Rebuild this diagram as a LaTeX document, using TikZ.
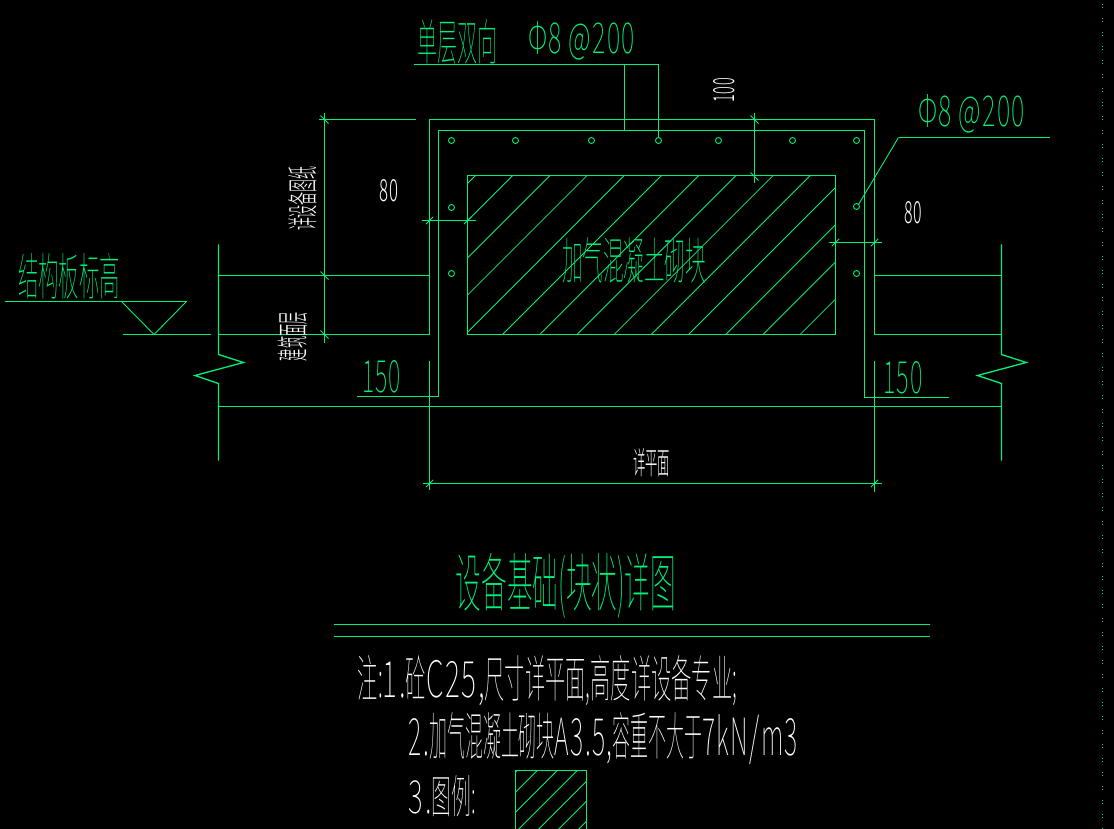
\documentclass[tikz,border=0pt]{standalone}
\usepackage{graphicx}
\usepackage{fontspec}
\setmainfont{Noto Sans CJK SC Thin}
\newfontfamily\lightf{Noto Sans CJK SC Light}
\newfontfamily\lsf[FakeStretch=1.4,LetterSpace=8]{Noto Sans CJK SC Thin}
\newfontfamily\lslf[FakeStretch=1.3,LetterSpace=8]{Noto Sans CJK SC Light}
\definecolor{cadg}{HTML}{00F078}
\tikzset{
  cad/.style={draw=cadg,line width=1.3pt},
  hatchline/.style={draw=cadg,line width=0.85pt},
  rebar/.style={draw=cadg,line width=0.9pt},
}
\newcommand{\TX}[7]{% name, x0, y0, x1, y1, colour, text
  \node[inner sep=0pt,outer sep=0pt,text=#6] (#1) at ({(#2+#4)/2},{(#3+#5)/2})
    {\resizebox{\dimexpr#4pt-#2pt\relax}{\dimexpr#5pt-#3pt\relax}{#7}};}
\newcommand{\TR}[7]{% rotated
  \node[inner sep=0pt,outer sep=0pt,text=#6,rotate=90] (#1) at ({(#2+#4)/2},{(#3+#5)/2})
    {\resizebox{\dimexpr#5pt-#3pt\relax}{\dimexpr#4pt-#2pt\relax}{#7}};}
\newcommand{\TK}[2]{\draw[cad,line width=0.85pt] ({#1-4},{#2-4}) -- ({#1+4},{#2+4});}
\newcommand{\TF}[2]{\draw[cad,line width=0.85pt] ({#1-3.7},{#2+3.7}) -- ({#1+3.7},{#2-3.7});}
\newcommand{\LS}[1]{{\lsf #1}}
\newcommand{\LL}[1]{{\lslf #1}}
\begin{document}
\begin{tikzpicture}[x=1pt,y=-1pt]
\useasboundingbox (0,0) rectangle (1114,829);
\fill[black] (0,0) rectangle (1114,829);
\begin{scope}[shift={(0.5,-0.5)}]
% dotted column
\foreach \k in {0,...,59}{
  \fill[cadg] (1101,{5+13.95*\k}) rectangle (1102,{6+13.95*\k});
  \fill[cadg] (1101,{8+13.95*\k}) rectangle (1102,{9+13.95*\k});
}
% hatch of block
\begin{scope}
\clip (467,176) rectangle (835,335);
\foreach \k in {0,...,13}{
  \draw[hatchline] ({651+37.2*\k-140},140) -- ({651+37.2*\k-340},340);
}
\end{scope}
\draw[cad] (467,176) rectangle (835,335);
% concrete outline
\draw[cad] (218,335) -- (429,335) -- (429,120) -- (874,120) -- (874,335) -- (1001,335);
\draw[cad] (356,397) -- (438,397) -- (438,131) -- (864,131) -- (864,398) -- (948,398);
% floor lines
\draw[cad] (218,276) -- (429,276);
\draw[cad] (874,276) -- (1001,276);
\draw[cad] (218,407) -- (1001,407);
\draw[cad] (218,245) -- (218,355) -- (243,363) -- (194.5,376) -- (218,384) -- (218,461);
\draw[cad] (1001,245) -- (1001,355) -- (1025.7,363) -- (977,376) -- (1001,384) -- (1001,461);
% leaders
\draw[cad] (413,65) -- (658,65) -- (658,138);
\draw[cad] (624,65) -- (624,131);
\draw[hatchline,line width=0.9pt] (858,205) -- (898,138);
\draw[cad] (898,138) -- (1049,138);
% rebar
\foreach \p in {(451,141),(515,141),(591,141),(658,141),(718,141),(792,141),(856,141),
  (451,208),(451,274),(856,207),(856,274)}{
  \draw[rebar] \p circle (3);
}
% dimensions
\draw[cad] (324,114) -- (324,343);
\draw[cad] (318,120) -- (415,120);
\TK{324}{120}\TK{324}{276}\TK{324}{335}
\draw[cad] (421,221) -- (475,221);
\TF{429}{221}\TF{467}{221}
\draw[cad] (828,243) -- (881,243);
\TF{835}{243}\TF{874}{243}
\draw[cad] (754,114) -- (754,184);
\TK{754}{120}\TK{754}{177}
\draw[cad] (429,361) -- (429,490);
\draw[cad] (874,361) -- (874,492);
\draw[cad] (422,484) -- (881,484);
\TF{429}{484}\TF{874}{484}
% elevation mark
\draw[cad] (4,302) -- (186,302);
\draw[hatchline,line width=0.9pt] (121,302) -- (153.5,335) -- (186,302);
\draw[cad] (122,335) -- (210,335);
% title rules
\draw[cad] (333,625) -- (929,625);
\draw[cad] (333,637) -- (929,637);
% legend
\begin{scope}
\clip (515,771) rectangle (586,830);
\foreach \k in {0,...,6}{
  \draw[hatchline] ({1287.7+20*\k-760},760) -- ({1287.7+20*\k-840},840);
}
\end{scope}
\draw[cad] (586,830) -- (586,771) -- (515,771) -- (515,830);
\end{scope}
% texts
\TX{tA}{417}{21}{497}{62}{cadg}{单层双向}
\TX{tB}{528}{25}{635}{57}{cadg}{\LS{Φ8 @200}}
\TX{tC}{918}{98}{1025}{130}{cadg}{\LS{Φ8 @200}}
\TR{tD}{714}{78}{735}{103}{white}{\LL{100}}
\TX{tE}{379}{180}{398}{202}{white}{\LL{80}}
\TX{tF}{904}{202}{922}{224}{white}{\LL{80}}
\TR{tG}{290}{166}{316}{231}{white}{\lightf 详设备图纸}
\TR{tH}{279}{312}{306}{361}{white}{\lightf 建筑面层}
\TX{tI}{18}{255}{120}{297}{cadg}{结构板标高}
\TX{tJ}{362}{361}{401}{393}{cadg}{\LS{150}}
\TX{tK}{883}{362}{923}{394}{cadg}{\LS{150}}
\TX{tL}{633}{450}{670}{476}{white}{\lightf 详平面}
\TX{tM}{562}{239}{706}{281}{cadg}{加气混凝土砌块}
\TX{tN}{456}{560}{676}{613}{cadg}{设备基础(块状)详图}
\TX{tO}{358}{660}{737}{702}{white}{注:{\lsf 1.}砼{\lsf C25,}尺寸详平面,高度详设备专业;}
\TX{tP}{409}{717}{798}{760}{white}{{\lsf 2.}加气混凝土砌块{\lsf A3.5,}容重不大于{\lsf 7kN/m3}}
\TX{tQ}{409}{777}{476}{815}{white}{{\lsf 3.}图例:}
\end{tikzpicture}
\end{document}
